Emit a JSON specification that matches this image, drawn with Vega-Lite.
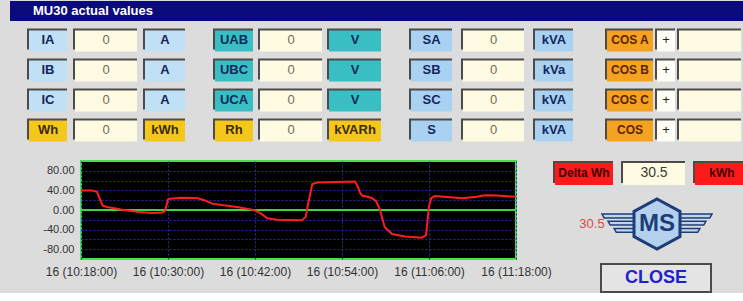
{
  "$schema": "https://vega.github.io/schema/vega-lite/v6.json",
  "background": "#dcdcdc",
  "padding": {"left": 10, "top": 1, "right": 0, "bottom": 0},
  "config": {"view": {"stroke": null}, "font": "Liberation Sans"},
  "datasets": {
    "cells": [
      {"g": 1, "r": 1, "label": "IA", "val": "0", "unit": "A", "lk": "current", "vk": "reading", "uk": "current"},
      {"g": 1, "r": 2, "label": "IB", "val": "0", "unit": "A", "lk": "current", "vk": "reading", "uk": "current"},
      {"g": 1, "r": 3, "label": "IC", "val": "0", "unit": "A", "lk": "current", "vk": "reading", "uk": "current"},
      {"g": 1, "r": 4, "label": "Wh", "val": "0", "unit": "kWh", "lk": "energy", "vk": "reading", "uk": "energy"},
      {"g": 2, "r": 1, "label": "UAB", "val": "0", "unit": "V", "lk": "voltage", "vk": "reading", "uk": "voltage"},
      {"g": 2, "r": 2, "label": "UBC", "val": "0", "unit": "V", "lk": "voltage", "vk": "reading", "uk": "voltage"},
      {"g": 2, "r": 3, "label": "UCA", "val": "0", "unit": "V", "lk": "voltage", "vk": "reading", "uk": "voltage"},
      {"g": 2, "r": 4, "label": "Rh", "val": "0", "unit": "kVARh", "lk": "energy", "vk": "reading", "uk": "energy"},
      {"g": 3, "r": 1, "label": "SA", "val": "0", "unit": "kVA", "lk": "power", "vk": "reading", "uk": "power"},
      {"g": 3, "r": 2, "label": "SB", "val": "0", "unit": "kVa", "lk": "power", "vk": "reading", "uk": "power"},
      {"g": 3, "r": 3, "label": "SC", "val": "0", "unit": "kVA", "lk": "power", "vk": "reading", "uk": "power"},
      {"g": 3, "r": 4, "label": "S", "val": "0", "unit": "kVA", "lk": "power", "vk": "reading", "uk": "power"},
      {"g": 4, "r": 1, "label": "COS A", "val": "+", "unit": "-", "lk": "cos", "vk": "sign", "uk": "reading"},
      {"g": 4, "r": 2, "label": "COS B", "val": "+", "unit": "-", "lk": "cos", "vk": "sign", "uk": "reading"},
      {"g": 4, "r": 3, "label": "COS C", "val": "+", "unit": "-", "lk": "cos", "vk": "sign", "uk": "reading"},
      {"g": 4, "r": 4, "label": "COS", "val": "+", "unit": "-", "lk": "cos", "vk": "sign", "uk": "reading"}
    ],
    "delta": [
      {"label": "Delta Wh", "val": "30.5", "unit": "kWh", "lk": "delta", "vk": "reading", "uk": "delta", "brand": "MS", "action": "CLOSE", "caption": "MU30 actual values"}
    ],
    "series": [
      {"time": "2010-03-16T10:18:00", "value": 40},
      {"time": "2010-03-16T10:19:30", "value": 40},
      {"time": "2010-03-16T10:20:12", "value": 37},
      {"time": "2010-03-16T10:20:36", "value": 22},
      {"time": "2010-03-16T10:21:00", "value": 9},
      {"time": "2010-03-16T10:21:36", "value": 6},
      {"time": "2010-03-16T10:23:54", "value": 0},
      {"time": "2010-03-16T10:26:00", "value": -4},
      {"time": "2010-03-16T10:27:48", "value": -6},
      {"time": "2010-03-16T10:29:12", "value": -5},
      {"time": "2010-03-16T10:29:36", "value": -2},
      {"time": "2010-03-16T10:30:00", "value": 22},
      {"time": "2010-03-16T10:30:18", "value": 23},
      {"time": "2010-03-16T10:31:54", "value": 25},
      {"time": "2010-03-16T10:34:00", "value": 24.5},
      {"time": "2010-03-16T10:35:00", "value": 20},
      {"time": "2010-03-16T10:36:06", "value": 13},
      {"time": "2010-03-16T10:37:24", "value": 10},
      {"time": "2010-03-16T10:39:30", "value": 6},
      {"time": "2010-03-16T10:41:48", "value": 0},
      {"time": "2010-03-16T10:42:42", "value": -6},
      {"time": "2010-03-16T10:43:42", "value": -17},
      {"time": "2010-03-16T10:45:00", "value": -20},
      {"time": "2010-03-16T10:48:30", "value": -21},
      {"time": "2010-03-16T10:49:00", "value": -14},
      {"time": "2010-03-16T10:49:24", "value": 18},
      {"time": "2010-03-16T10:49:54", "value": 53},
      {"time": "2010-03-16T10:50:36", "value": 56},
      {"time": "2010-03-16T10:53:18", "value": 57},
      {"time": "2010-03-16T10:55:48", "value": 58},
      {"time": "2010-03-16T10:56:12", "value": 47},
      {"time": "2010-03-16T10:56:30", "value": 35},
      {"time": "2010-03-16T10:56:48", "value": 29},
      {"time": "2010-03-16T10:57:24", "value": 27.5},
      {"time": "2010-03-16T10:58:06", "value": 24.5},
      {"time": "2010-03-16T10:58:42", "value": 18},
      {"time": "2010-03-16T10:59:12", "value": 2},
      {"time": "2010-03-16T10:59:54", "value": -35},
      {"time": "2010-03-16T11:00:54", "value": -49},
      {"time": "2010-03-16T11:02:42", "value": -54},
      {"time": "2010-03-16T11:05:00", "value": -56.5},
      {"time": "2010-03-16T11:05:36", "value": -51},
      {"time": "2010-03-16T11:06:00", "value": 8},
      {"time": "2010-03-16T11:06:18", "value": 24},
      {"time": "2010-03-16T11:06:48", "value": 28.5},
      {"time": "2010-03-16T11:08:30", "value": 26.5},
      {"time": "2010-03-16T11:10:36", "value": 24},
      {"time": "2010-03-16T11:12:36", "value": 27},
      {"time": "2010-03-16T11:13:42", "value": 30},
      {"time": "2010-03-16T11:15:24", "value": 29.5},
      {"time": "2010-03-16T11:18:00", "value": 27}
    ]
  },
  "spacing": 3,
  "vconcat": [
    {
      "width": 733, "height": 20,
      "view": {"fill": "#0a0a7c", "stroke": null},
      "data": {"name": "delta"},
      "mark": {"type": "text", "align": "left", "fontSize": 13, "fontWeight": "bold", "color": "#ffffff", "dx": 23},
      "encoding": {"text": {"field": "caption"}, "x": {"value": 0}}
    },
    {
      "spacing": 16,
      "vconcat": [
        {
          "spacing": 28,
          "hconcat": [
            {
              "spacing": 6, "bounds": "flush",
              "hconcat": [
                {"width": 57, "height": 120, "data": {"name": "cells"}, "transform": [{"filter": "datum.g == 1"}],
                 "encoding": {"y": {"field": "r", "type": "ordinal", "axis": null, "scale": {"paddingInner": 0.3, "paddingOuter": 0.15}}},
                 "layer": [
                   {"mark": {"type": "rect", "color": "#4b4b4b", "xOffset": 17}, "encoding": {"x": {"value": 0}, "x2": {"value": "width"}}},
                   {"mark": {"type": "rect", "xOffset": 19, "yOffset": 2}, "encoding": {"x": {"value": 0}, "x2": {"value": "width"}, "fill": {"field": "lk", "type": "nominal", "legend": null, "scale": {"domain": ["current","voltage","energy","power","cos","reading","sign","delta"], "range": ["#bfe0f5","#38bec3","#f5c71a","#a9d1f2","#f4a21f","#fffbe2","#fffef6","#ff1a1a"]}}}},
                   {"mark": {"type": "text", "fontSize": 13, "fontWeight": "bold", "xOffset": 9.5, "yOffset": 1}, "encoding": {"text": {"field": "label"}, "color": {"field": "lk", "type": "nominal", "legend": null, "scale": {"domain": ["current","voltage","energy","power","cos","reading","sign","delta"], "range": ["#16255c","#0f2a5a","#3a2a0c","#15275e","#5c2300","#6c6c58","#222222","#400000"]}}}}
                 ]},
                {"width": 64, "height": 120, "data": {"name": "cells"}, "transform": [{"filter": "datum.g == 1"}],
                 "encoding": {"y": {"field": "r", "type": "ordinal", "axis": null, "scale": {"paddingInner": 0.3, "paddingOuter": 0.15}}},
                 "layer": [
                   {"mark": {"type": "rect", "color": "#4b4b4b"}, "encoding": {"x": {"value": 0}, "x2": {"value": "width"}}},
                   {"mark": {"type": "rect", "xOffset": 2, "yOffset": 2}, "encoding": {"x": {"value": 0}, "x2": {"value": "width"}, "fill": {"field": "vk", "type": "nominal", "legend": null, "scale": {"domain": ["current","voltage","energy","power","cos","reading","sign","delta"], "range": ["#bfe0f5","#38bec3","#f5c71a","#a9d1f2","#f4a21f","#fffbe2","#fffef6","#ff1a1a"]}}}},
                   {"mark": {"type": "text", "fontSize": 13, "xOffset": 1, "yOffset": 1}, "encoding": {"text": {"field": "val"}, "color": {"field": "vk", "type": "nominal", "legend": null, "scale": {"domain": ["current","voltage","energy","power","cos","reading","sign","delta"], "range": ["#16255c","#0f2a5a","#3a2a0c","#15275e","#5c2300","#6c6c58","#222222","#400000"]}}}}
                 ]},
                {"width": 42, "height": 120, "data": {"name": "cells"}, "transform": [{"filter": "datum.g == 1"}],
                 "encoding": {"y": {"field": "r", "type": "ordinal", "axis": null, "scale": {"paddingInner": 0.3, "paddingOuter": 0.15}}},
                 "layer": [
                   {"mark": {"type": "rect", "color": "#4b4b4b"}, "encoding": {"x": {"value": 0}, "x2": {"value": "width"}}},
                   {"mark": {"type": "rect", "xOffset": 2, "yOffset": 2}, "encoding": {"x": {"value": 0}, "x2": {"value": "width"}, "fill": {"field": "uk", "type": "nominal", "legend": null, "scale": {"domain": ["current","voltage","energy","power","cos","reading","sign","delta"], "range": ["#bfe0f5","#38bec3","#f5c71a","#a9d1f2","#f4a21f","#fffbe2","#fffef6","#ff1a1a"]}}}},
                   {"mark": {"type": "text", "fontSize": 13, "fontWeight": "bold", "xOffset": 1, "yOffset": 1}, "encoding": {"text": {"field": "unit"}, "color": {"field": "uk", "type": "nominal", "legend": null, "scale": {"domain": ["current","voltage","energy","power","cos","reading","sign","delta"], "range": ["#16255c","#0f2a5a","#3a2a0c","#15275e","#5c2300","#6c6c58","#222222","#400000"]}}}}
                 ]}
              ]
            },
            {
              "spacing": 5, "bounds": "flush",
              "hconcat": [
                {"width": 40, "height": 120, "data": {"name": "cells"}, "transform": [{"filter": "datum.g == 2"}],
                 "encoding": {"y": {"field": "r", "type": "ordinal", "axis": null, "scale": {"paddingInner": 0.3, "paddingOuter": 0.15}}},
                 "layer": [
                   {"mark": {"type": "rect", "color": "#4b4b4b"}, "encoding": {"x": {"value": 0}, "x2": {"value": "width"}}},
                   {"mark": {"type": "rect", "xOffset": 2, "yOffset": 2}, "encoding": {"x": {"value": 0}, "x2": {"value": "width"}, "fill": {"field": "lk", "type": "nominal", "legend": null, "scale": {"domain": ["current","voltage","energy","power","cos","reading","sign","delta"], "range": ["#bfe0f5","#38bec3","#f5c71a","#a9d1f2","#f4a21f","#fffbe2","#fffef6","#ff1a1a"]}}}},
                   {"mark": {"type": "text", "fontSize": 13, "fontWeight": "bold", "xOffset": 1, "yOffset": 1}, "encoding": {"text": {"field": "label"}, "color": {"field": "lk", "type": "nominal", "legend": null, "scale": {"domain": ["current","voltage","energy","power","cos","reading","sign","delta"], "range": ["#16255c","#0f2a5a","#3a2a0c","#15275e","#5c2300","#6c6c58","#222222","#400000"]}}}}
                 ]},
                {"width": 64, "height": 120, "data": {"name": "cells"}, "transform": [{"filter": "datum.g == 2"}],
                 "encoding": {"y": {"field": "r", "type": "ordinal", "axis": null, "scale": {"paddingInner": 0.3, "paddingOuter": 0.15}}},
                 "layer": [
                   {"mark": {"type": "rect", "color": "#4b4b4b"}, "encoding": {"x": {"value": 0}, "x2": {"value": "width"}}},
                   {"mark": {"type": "rect", "xOffset": 2, "yOffset": 2}, "encoding": {"x": {"value": 0}, "x2": {"value": "width"}, "fill": {"field": "vk", "type": "nominal", "legend": null, "scale": {"domain": ["current","voltage","energy","power","cos","reading","sign","delta"], "range": ["#bfe0f5","#38bec3","#f5c71a","#a9d1f2","#f4a21f","#fffbe2","#fffef6","#ff1a1a"]}}}},
                   {"mark": {"type": "text", "fontSize": 13, "xOffset": 1, "yOffset": 1}, "encoding": {"text": {"field": "val"}, "color": {"field": "vk", "type": "nominal", "legend": null, "scale": {"domain": ["current","voltage","energy","power","cos","reading","sign","delta"], "range": ["#16255c","#0f2a5a","#3a2a0c","#15275e","#5c2300","#6c6c58","#222222","#400000"]}}}}
                 ]},
                {"width": 54, "height": 120, "data": {"name": "cells"}, "transform": [{"filter": "datum.g == 2"}],
                 "encoding": {"y": {"field": "r", "type": "ordinal", "axis": null, "scale": {"paddingInner": 0.3, "paddingOuter": 0.15}}},
                 "layer": [
                   {"mark": {"type": "rect", "color": "#4b4b4b"}, "encoding": {"x": {"value": 0}, "x2": {"value": "width"}}},
                   {"mark": {"type": "rect", "xOffset": 2, "yOffset": 2}, "encoding": {"x": {"value": 0}, "x2": {"value": "width"}, "fill": {"field": "uk", "type": "nominal", "legend": null, "scale": {"domain": ["current","voltage","energy","power","cos","reading","sign","delta"], "range": ["#bfe0f5","#38bec3","#f5c71a","#a9d1f2","#f4a21f","#fffbe2","#fffef6","#ff1a1a"]}}}},
                   {"mark": {"type": "text", "fontSize": 13, "fontWeight": "bold", "xOffset": 1, "yOffset": 1}, "encoding": {"text": {"field": "unit"}, "color": {"field": "uk", "type": "nominal", "legend": null, "scale": {"domain": ["current","voltage","energy","power","cos","reading","sign","delta"], "range": ["#16255c","#0f2a5a","#3a2a0c","#15275e","#5c2300","#6c6c58","#222222","#400000"]}}}}
                 ]}
              ]
            },
            {
              "spacing": 9, "bounds": "flush",
              "hconcat": [
                {"width": 43, "height": 120, "data": {"name": "cells"}, "transform": [{"filter": "datum.g == 3"}],
                 "encoding": {"y": {"field": "r", "type": "ordinal", "axis": null, "scale": {"paddingInner": 0.3, "paddingOuter": 0.15}}},
                 "layer": [
                   {"mark": {"type": "rect", "color": "#4b4b4b"}, "encoding": {"x": {"value": 0}, "x2": {"value": "width"}}},
                   {"mark": {"type": "rect", "xOffset": 2, "yOffset": 2}, "encoding": {"x": {"value": 0}, "x2": {"value": "width"}, "fill": {"field": "lk", "type": "nominal", "legend": null, "scale": {"domain": ["current","voltage","energy","power","cos","reading","sign","delta"], "range": ["#bfe0f5","#38bec3","#f5c71a","#a9d1f2","#f4a21f","#fffbe2","#fffef6","#ff1a1a"]}}}},
                   {"mark": {"type": "text", "fontSize": 13, "fontWeight": "bold", "xOffset": 1, "yOffset": 1}, "encoding": {"text": {"field": "label"}, "color": {"field": "lk", "type": "nominal", "legend": null, "scale": {"domain": ["current","voltage","energy","power","cos","reading","sign","delta"], "range": ["#16255c","#0f2a5a","#3a2a0c","#15275e","#5c2300","#6c6c58","#222222","#400000"]}}}}
                 ]},
                {"width": 63, "height": 120, "data": {"name": "cells"}, "transform": [{"filter": "datum.g == 3"}],
                 "encoding": {"y": {"field": "r", "type": "ordinal", "axis": null, "scale": {"paddingInner": 0.3, "paddingOuter": 0.15}}},
                 "layer": [
                   {"mark": {"type": "rect", "color": "#4b4b4b"}, "encoding": {"x": {"value": 0}, "x2": {"value": "width"}}},
                   {"mark": {"type": "rect", "xOffset": 2, "yOffset": 2}, "encoding": {"x": {"value": 0}, "x2": {"value": "width"}, "fill": {"field": "vk", "type": "nominal", "legend": null, "scale": {"domain": ["current","voltage","energy","power","cos","reading","sign","delta"], "range": ["#bfe0f5","#38bec3","#f5c71a","#a9d1f2","#f4a21f","#fffbe2","#fffef6","#ff1a1a"]}}}},
                   {"mark": {"type": "text", "fontSize": 13, "xOffset": 1, "yOffset": 1}, "encoding": {"text": {"field": "val"}, "color": {"field": "vk", "type": "nominal", "legend": null, "scale": {"domain": ["current","voltage","energy","power","cos","reading","sign","delta"], "range": ["#16255c","#0f2a5a","#3a2a0c","#15275e","#5c2300","#6c6c58","#222222","#400000"]}}}}
                 ]},
                {"width": 40, "height": 120, "data": {"name": "cells"}, "transform": [{"filter": "datum.g == 3"}],
                 "encoding": {"y": {"field": "r", "type": "ordinal", "axis": null, "scale": {"paddingInner": 0.3, "paddingOuter": 0.15}}},
                 "layer": [
                   {"mark": {"type": "rect", "color": "#4b4b4b"}, "encoding": {"x": {"value": 0}, "x2": {"value": "width"}}},
                   {"mark": {"type": "rect", "xOffset": 2, "yOffset": 2}, "encoding": {"x": {"value": 0}, "x2": {"value": "width"}, "fill": {"field": "uk", "type": "nominal", "legend": null, "scale": {"domain": ["current","voltage","energy","power","cos","reading","sign","delta"], "range": ["#bfe0f5","#38bec3","#f5c71a","#a9d1f2","#f4a21f","#fffbe2","#fffef6","#ff1a1a"]}}}},
                   {"mark": {"type": "text", "fontSize": 13, "fontWeight": "bold", "xOffset": 1, "yOffset": 1}, "encoding": {"text": {"field": "unit"}, "color": {"field": "uk", "type": "nominal", "legend": null, "scale": {"domain": ["current","voltage","energy","power","cos","reading","sign","delta"], "range": ["#16255c","#0f2a5a","#3a2a0c","#15275e","#5c2300","#6c6c58","#222222","#400000"]}}}}
                 ]}
              ]
            },
            {
              "spacing": 2, "bounds": "flush",
              "hconcat": [
                {"width": 52, "height": 120, "data": {"name": "cells"}, "transform": [{"filter": "datum.g == 4"}],
                 "encoding": {"y": {"field": "r", "type": "ordinal", "axis": null, "scale": {"paddingInner": 0.3, "paddingOuter": 0.15}}},
                 "layer": [
                   {"mark": {"type": "rect", "color": "#4b4b4b", "xOffset": 4}, "encoding": {"x": {"value": 0}, "x2": {"value": "width"}}},
                   {"mark": {"type": "rect", "xOffset": 6, "yOffset": 2}, "encoding": {"x": {"value": 0}, "x2": {"value": "width"}, "fill": {"field": "lk", "type": "nominal", "legend": null, "scale": {"domain": ["current","voltage","energy","power","cos","reading","sign","delta"], "range": ["#bfe0f5","#38bec3","#f5c71a","#a9d1f2","#f4a21f","#fffbe2","#fffef6","#ff1a1a"]}}}},
                   {"mark": {"type": "text", "fontSize": 12, "fontWeight": "bold", "xOffset": 3, "yOffset": 1}, "encoding": {"text": {"field": "label"}, "color": {"field": "lk", "type": "nominal", "legend": null, "scale": {"domain": ["current","voltage","energy","power","cos","reading","sign","delta"], "range": ["#16255c","#0f2a5a","#3a2a0c","#15275e","#5c2300","#6c6c58","#222222","#400000"]}}}}
                 ]},
                {"width": 20, "height": 120, "data": {"name": "cells"}, "transform": [{"filter": "datum.g == 4"}],
                 "encoding": {"y": {"field": "r", "type": "ordinal", "axis": null, "scale": {"paddingInner": 0.3, "paddingOuter": 0.15}}},
                 "layer": [
                   {"mark": {"type": "rect", "color": "#4b4b4b"}, "encoding": {"x": {"value": 0}, "x2": {"value": "width"}}},
                   {"mark": {"type": "rect", "xOffset": 2, "yOffset": 2}, "encoding": {"x": {"value": 0}, "x2": {"value": "width"}, "fill": {"field": "vk", "type": "nominal", "legend": null, "scale": {"domain": ["current","voltage","energy","power","cos","reading","sign","delta"], "range": ["#bfe0f5","#38bec3","#f5c71a","#a9d1f2","#f4a21f","#fffbe2","#fffef6","#ff1a1a"]}}}},
                   {"mark": {"type": "text", "fontSize": 13, "xOffset": 1, "yOffset": 1}, "encoding": {"text": {"field": "val"}, "color": {"field": "vk", "type": "nominal", "legend": null, "scale": {"domain": ["current","voltage","energy","power","cos","reading","sign","delta"], "range": ["#16255c","#0f2a5a","#3a2a0c","#15275e","#5c2300","#6c6c58","#222222","#400000"]}}}}
                 ]},
                {"width": 64, "height": 120, "data": {"name": "cells"}, "transform": [{"filter": "datum.g == 4"}],
                 "encoding": {"y": {"field": "r", "type": "ordinal", "axis": null, "scale": {"paddingInner": 0.3, "paddingOuter": 0.15}}},
                 "layer": [
                   {"mark": {"type": "rect", "color": "#4b4b4b"}, "encoding": {"x": {"value": 0}, "x2": {"value": "width"}}},
                   {"mark": {"type": "rect", "xOffset": 2, "yOffset": 2}, "encoding": {"x": {"value": 0}, "x2": {"value": "width"}, "fill": {"field": "uk", "type": "nominal", "legend": null, "scale": {"domain": ["current","voltage","energy","power","cos","reading","sign","delta"], "range": ["#bfe0f5","#38bec3","#f5c71a","#a9d1f2","#f4a21f","#fffbe2","#fffef6","#ff1a1a"]}}}}
                 ]}
              ]
            }
          ]
        },
        {
          "spacing": 0,
          "hconcat": [
            {"width": 31, "height": 10, "data": {"name": "delta"},
             "mark": {"type": "rect", "opacity": 0},
             "encoding": {"x": {"value": 0}, "x2": {"value": "width"}, "y": {"field": "lk", "type": "nominal", "axis": null}}},
            {
              "width": 435, "height": 98,
              "view": {"fill": "#000000", "stroke": "#45e045", "strokeWidth": 2},
              "data": {"name": "series"},
              "layer": [
                {"mark": {"type": "rule", "color": "#39d839", "strokeWidth": 1.5},
                 "encoding": {"y": {"datum": 0, "type": "quantitative", "title": null}}},
                {"mark": {"type": "line", "color": "#ff1e1e", "strokeWidth": 2, "clip": true},
                 "encoding": {
                   "x": {"field": "time", "type": "temporal", "title": null,
                         "scale": {"domain": [{"year": 2010, "month": 3, "date": 16, "hours": 10, "minutes": 18}, {"year": 2010, "month": 3, "date": 16, "hours": 11, "minutes": 18}], "nice": false},
                         "axis": {
                           "values": [
                             {"year": 2010, "month": 3, "date": 16, "hours": 10, "minutes": 18},
                             {"year": 2010, "month": 3, "date": 16, "hours": 10, "minutes": 30},
                             {"year": 2010, "month": 3, "date": 16, "hours": 10, "minutes": 42},
                             {"year": 2010, "month": 3, "date": 16, "hours": 10, "minutes": 54},
                             {"year": 2010, "month": 3, "date": 16, "hours": 11, "minutes": 6},
                             {"year": 2010, "month": 3, "date": 16, "hours": 11, "minutes": 18}
                           ],
                           "tickCount": 12,
                           "format": "%d (%H:%M:%S)",
                           "labelFlush": false, "labelOverlap": false, "labelAngle": 0,
                           "labelFontSize": 12, "labelColor": "#333333", "labelPadding": 7,
                           "domain": false, "ticks": false,
                           "grid": true, "gridColor": "#2a2aa8", "gridDash": [2, 2], "gridWidth": 1
                         }},
                   "y": {"field": "value", "type": "quantitative", "title": null,
                         "scale": {"domain": [-100, 100], "nice": false, "zero": false},
                         "axis": {
                           "values": [-80, -60, -40, -20, 0, 20, 40, 60, 80],
                           "tickCount": 20,
                           "labelExpr": "datum.value % 40 == 0 ? ((datum.value < 0 ? '-' : '') + format(abs(datum.value), '.2f')) : ' '",
                           "labelFontSize": 11, "labelColor": "#333333", "labelPadding": 7, "labelOverlap": false,
                           "domain": false, "ticks": false,
                           "grid": true, "gridColor": "#2a2aa8", "gridDash": [2, 2], "gridWidth": 1
                         }}
                 }}
              ]
            },
            {
              "spacing": 0,
              "vconcat": [
                {
                  "spacing": 8, "bounds": "flush",
                  "hconcat": [
                    {"width": 60, "height": 22, "data": {"name": "delta"},
                     "encoding": {"y": {"field": "lk", "type": "nominal", "axis": null, "scale": {"paddingInner": 0, "paddingOuter": 0}}},
                     "layer": [
                       {"mark": {"type": "rect", "color": "#4b4b4b"}, "encoding": {"x": {"value": 0}, "x2": {"value": "width"}}},
                       {"mark": {"type": "rect", "xOffset": 2, "yOffset": 2}, "encoding": {"x": {"value": 0}, "x2": {"value": "width"}, "fill": {"field": "lk", "type": "nominal", "legend": null, "scale": {"domain": ["current","voltage","energy","power","cos","reading","sign","delta"], "range": ["#bfe0f5","#38bec3","#f5c71a","#a9d1f2","#f4a21f","#fffbe2","#fffef6","#ff1a1a"]}}}},
                       {"mark": {"type": "text", "fontSize": 12, "fontWeight": "bold", "xOffset": 1, "yOffset": 1}, "encoding": {"text": {"field": "label"}, "color": {"field": "lk", "type": "nominal", "legend": null, "scale": {"domain": ["current","voltage","energy","power","cos","reading","sign","delta"], "range": ["#16255c","#0f2a5a","#3a2a0c","#15275e","#5c2300","#6c6c58","#222222","#400000"]}}}}
                     ]},
                    {"width": 64, "height": 22, "data": {"name": "delta"},
                     "encoding": {"y": {"field": "lk", "type": "nominal", "axis": null, "scale": {"paddingInner": 0, "paddingOuter": 0}}},
                     "layer": [
                       {"mark": {"type": "rect", "color": "#4b4b4b"}, "encoding": {"x": {"value": 0}, "x2": {"value": "width"}}},
                       {"mark": {"type": "rect", "xOffset": 2, "yOffset": 2}, "encoding": {"x": {"value": 0}, "x2": {"value": "width"}, "fill": {"field": "vk", "type": "nominal", "legend": null, "scale": {"domain": ["current","voltage","energy","power","cos","reading","sign","delta"], "range": ["#bfe0f5","#38bec3","#f5c71a","#a9d1f2","#f4a21f","#fffbe2","#fffef6","#ff1a1a"]}}}},
                       {"mark": {"type": "text", "fontSize": 14, "xOffset": 1, "yOffset": 1, "color": "#3a3a3a"}, "encoding": {"text": {"field": "val"}}}
                     ]},
                    {"width": 56, "height": 22, "data": {"name": "delta"},
                     "encoding": {"y": {"field": "lk", "type": "nominal", "axis": null, "scale": {"paddingInner": 0, "paddingOuter": 0}}},
                     "layer": [
                       {"mark": {"type": "rect", "color": "#4b4b4b"}, "encoding": {"x": {"value": 0}, "x2": {"value": "width"}}},
                       {"mark": {"type": "rect", "xOffset": 2, "yOffset": 2}, "encoding": {"x": {"value": 0}, "x2": {"value": "width"}, "fill": {"field": "uk", "type": "nominal", "legend": null, "scale": {"domain": ["current","voltage","energy","power","cos","reading","sign","delta"], "range": ["#bfe0f5","#38bec3","#f5c71a","#a9d1f2","#f4a21f","#fffbe2","#fffef6","#ff1a1a"]}}}},
                       {"mark": {"type": "text", "fontSize": 12, "fontWeight": "bold", "xOffset": 1, "yOffset": 1}, "encoding": {"text": {"field": "unit"}, "color": {"field": "uk", "type": "nominal", "legend": null, "scale": {"domain": ["current","voltage","energy","power","cos","reading","sign","delta"], "range": ["#16255c","#0f2a5a","#3a2a0c","#15275e","#5c2300","#6c6c58","#222222","#400000"]}}}}
                     ]}
                  ]
                },
                {
                  "width": 208, "height": 78, "data": {"name": "delta"},
                  "layer": [
                    {"mark": {"type": "text", "dx": -65, "fontSize": 13, "color": "#e04848"}, "encoding": {"text": {"field": "val"}}},
                    {"mark": {"type": "point", "shape": "M-1,-0.18 L-0.4,-0.18 L-0.4,-0.11 L-0.96,-0.11 Z M-0.89,-0.05 L-0.4,-0.05 L-0.4,0.02 L-0.85,0.02 Z M-0.78,0.08 L-0.4,0.08 L-0.4,0.15 L-0.74,0.15 Z M1,-0.18 L0.4,-0.18 L0.4,-0.11 L0.96,-0.11 Z M0.89,-0.05 L0.4,-0.05 L0.4,0.02 L0.85,0.02 Z M0.78,0.08 L0.4,0.08 L0.4,0.15 L0.74,0.15 Z", "size": 12100, "filled": true, "fill": "#bcd6ee", "stroke": "#1c3d7a", "strokeWidth": 1.5, "opacity": 1}},
                    {"mark": {"type": "point", "shape": "M0,-0.455 L0.418,-0.228 L0.418,0.228 L0,0.455 L-0.418,0.228 L-0.418,-0.228 Z", "size": 12100, "filled": true, "fill": "#b4d0ec", "stroke": "#1c3d7a", "strokeWidth": 3, "opacity": 1}},
                    {"mark": {"type": "text", "fontSize": 24, "fontWeight": "bold", "color": "#1c3d7a"}, "encoding": {"text": {"field": "brand"}}}
                  ]
                },
                {
                  "width": 158, "height": 28, "data": {"name": "delta"},
                  "encoding": {"y": {"field": "lk", "type": "nominal", "axis": null, "scale": {"paddingInner": 0, "paddingOuter": 0}}},
                  "layer": [
                    {"mark": {"type": "rect", "color": "#e4e4e4", "stroke": "#4a4a4a", "strokeWidth": 2, "xOffset": 48}, "encoding": {"x": {"value": 0}, "x2": {"value": "width"}}},
                    {"mark": {"type": "text", "fontSize": 18, "fontWeight": "bold", "color": "#2020d0", "xOffset": 24}, "encoding": {"text": {"field": "action"}}}
                  ]
                }
              ]
            }
          ]
        }
      ]
    }
  ]
}
